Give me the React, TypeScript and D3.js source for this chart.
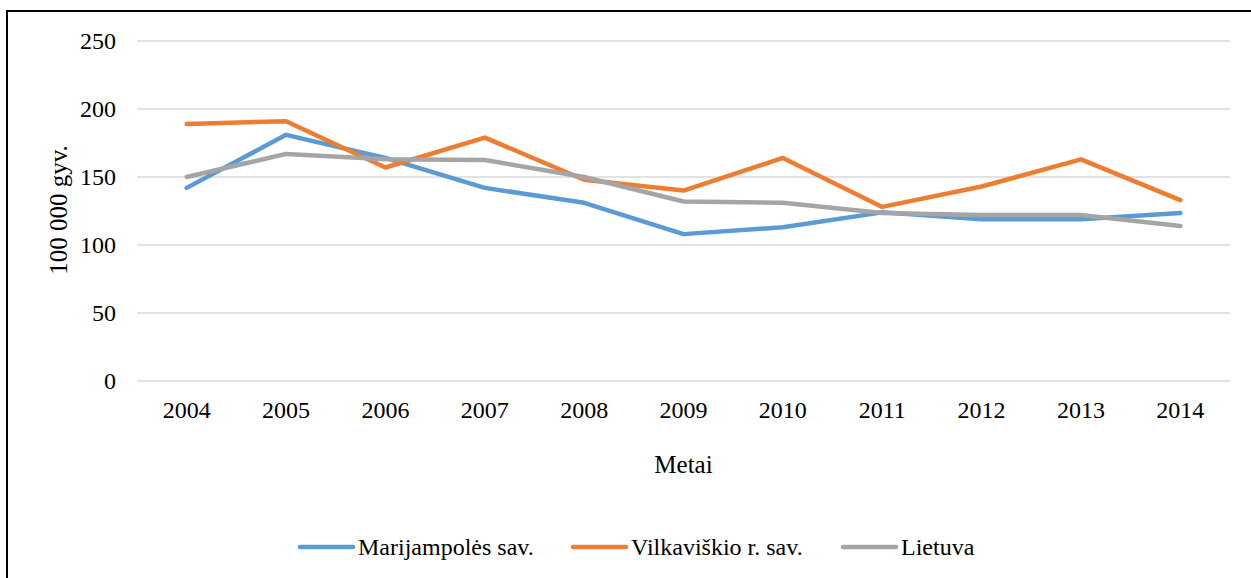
import React, { useEffect, useRef } from 'react';
import * as d3 from 'd3';

const years = ['2004', '2005', '2006', '2007', '2008', '2009', '2010', '2011', '2012', '2013', '2014'];
const marijampole = [142, 181, 164, 142, 131, 108, 113, 124, 119, 119, 123.5];
const vilkaviskis = [189, 191, 157, 179, 148, 140, 164, 128, 143, 163, 133];
const lietuva = [150, 167, 163, 162.5, 150, 132, 131, 123.5, 122, 122, 114];
const yTicks = [0, 50, 100, 150, 200, 250];

const series = [
  { name: 'Marijampolės sav.', values: marijampole, color: '#5B9BD5' },
  { name: 'Vilkaviškio r. sav.', values: vilkaviskis, color: '#ED7D31' },
  { name: 'Lietuva', values: lietuva, color: '#A5A5A5' },
];

const W = 1251;
const H = 578;
const font = 'Liberation Serif, Times New Roman, serif';

const App: React.FC = () => {
  const svgRef = useRef<SVGSVGElement>(null);

  useEffect(() => {
    if (!svgRef.current) return;
    const svg = d3.select(svgRef.current);
    svg.selectAll('*').remove();

    const margin = { top: 41, right: 21, bottom: 197, left: 137 };
    const innerW = W - margin.left - margin.right;
    const innerH = H - margin.top - margin.bottom;

    // chart frame: only top and left edges fall inside the picture
    svg.append('rect')
      .attr('x', 7).attr('y', 11)
      .attr('width', W + 20).attr('height', H + 20)
      .attr('fill', 'white').attr('stroke', '#000').attr('stroke-width', 2);

    const g = svg.append('g').attr('transform', `translate(${margin.left},${margin.top})`);

    const x = d3.scaleBand().domain(years).range([0, innerW]);
    const y = d3.scaleLinear().domain([0, 250]).range([innerH, 0]);

    g.append('g')
      .selectAll('line')
      .data(yTicks)
      .join('line')
      .attr('x1', 0).attr('x2', innerW)
      .attr('y1', d => y(d)).attr('y2', d => y(d))
      .attr('stroke', '#d9d9d9').attr('stroke-width', 1.5);

    g.append('g')
      .selectAll('text')
      .data(yTicks)
      .join('text')
      .attr('x', -21).attr('y', d => y(d))
      .attr('dy', '0.35em')
      .attr('text-anchor', 'end')
      .style('font-family', font).style('font-size', '24px')
      .text(d => d);

    g.append('g')
      .selectAll('text')
      .data(years)
      .join('text')
      .attr('x', d => (x(d) || 0) + x.bandwidth() / 2)
      .attr('y', innerH + 29)
      .attr('dy', '0.35em')
      .attr('text-anchor', 'middle')
      .style('font-family', font).style('font-size', '24px')
      .text(d => d);

    const line = d3.line<number>()
      .x((_, i) => (x(years[i]) || 0) + x.bandwidth() / 2)
      .y(d => y(d));

    series.forEach(s => {
      g.append('path')
        .datum(s.values)
        .attr('d', line)
        .attr('fill', 'none')
        .attr('stroke', s.color)
        .attr('stroke-width', 4.5)
        .attr('stroke-linejoin', 'round')
        .attr('stroke-linecap', 'round');
    });

    svg.append('text')
      .attr('x', margin.left + innerW / 2).attr('y', 464)
      .attr('dy', '0.35em')
      .attr('text-anchor', 'middle')
      .style('font-family', font).style('font-size', '25px')
      .text('Metai');

    svg.append('text')
      .attr('transform', 'translate(58,210) rotate(-90)')
      .attr('dy', '0.35em')
      .attr('text-anchor', 'middle')
      .style('font-family', font).style('font-size', '25px')
      .text('100 000 gyv.');

    const legendX = [300, 573, 843];
    const leg = svg.append('g');
    series.forEach((s, i) => {
      leg.append('line')
        .attr('x1', legendX[i]).attr('x2', legendX[i] + 53)
        .attr('y1', 547).attr('y2', 547)
        .attr('stroke', s.color).attr('stroke-width', 4.5)
        .attr('stroke-linecap', 'round');
      leg.append('text')
        .attr('x', legendX[i] + 58).attr('y', 547)
        .attr('dy', '0.35em')
        .style('font-family', font).style('font-size', '24px')
        .text(s.name);
    });
  }, []);

  return (
    <svg ref={svgRef} width={W} height={H} style={{ position: 'absolute', left: 0, top: 0 }} />
  );
};

export default App;
